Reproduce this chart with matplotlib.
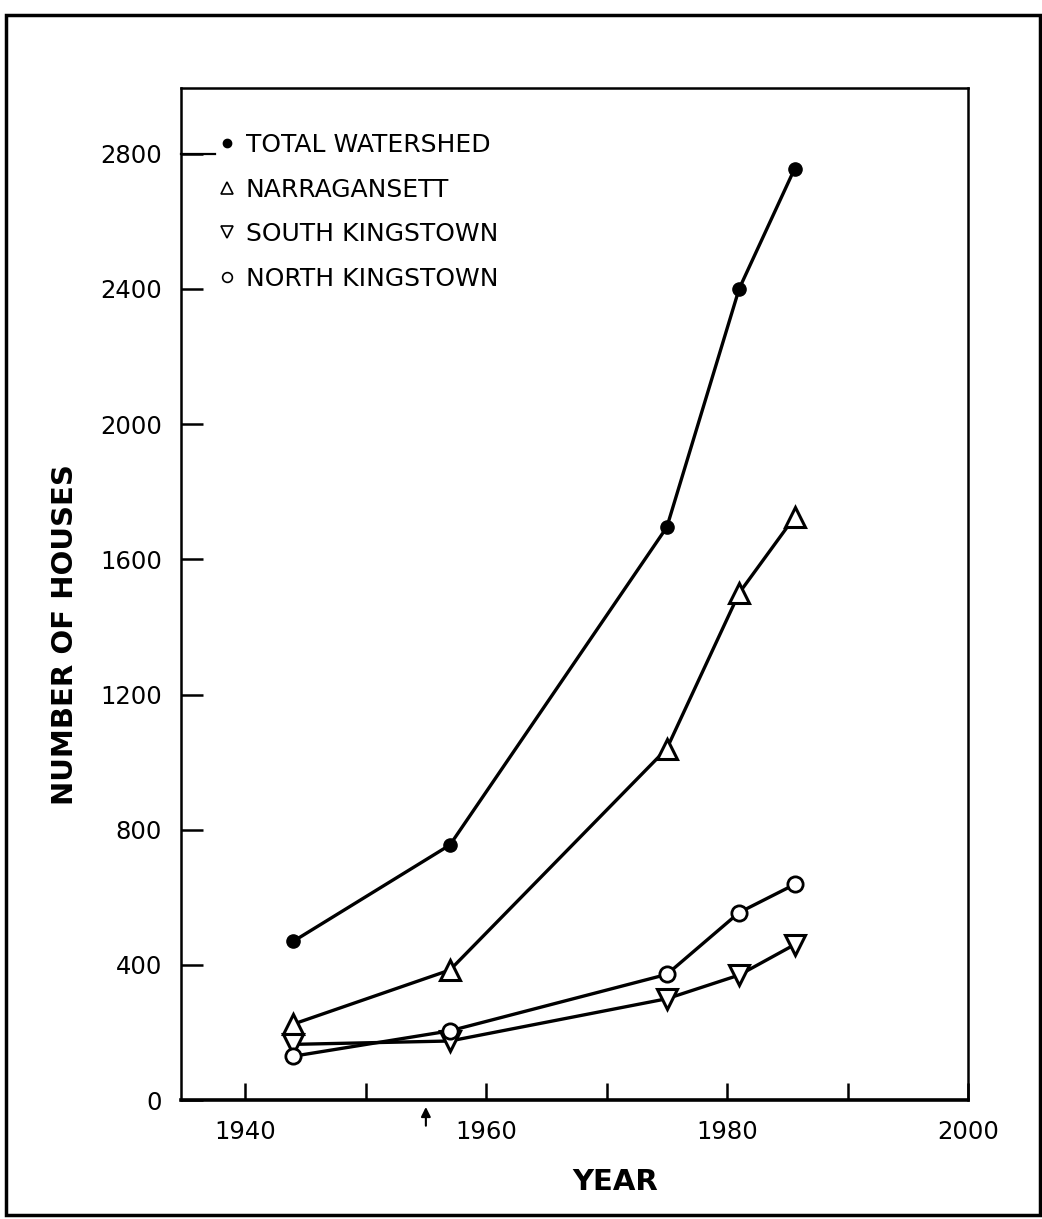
import matplotlib
matplotlib.use("Agg")
import matplotlib.pyplot as plt
from matplotlib.lines import Line2D
from matplotlib.patches import Rectangle

years = [1944, 1957, 1975, 1981, 1985.6]
total_watershed = [470, 755, 1695, 2400, 2755]
narragansett = [225, 385, 1040, 1500, 1725]
south_kingstown = [165, 175, 300, 370, 460]
north_kingstown = [130, 205, 372, 555, 638]

x_ticks = [1940, 1950, 1960, 1970, 1980, 1990, 2000]
x_tick_labels = ["1940", "", "1960", "", "1980", "", "2000"]
y_ticks = [0, 400, 800, 1200, 1600, 2000, 2400, 2800]

plt.rcParams['font.family'] = ['DejaVu Sans']

fig = plt.figure(figsize=(10.42, 12.19), dpi=100)
ax = fig.add_axes([0.174, 0.0975, 0.755, 0.8305])

lw = 2.4
ax.plot(years, total_watershed, color='black', lw=lw, marker='o', ms=9.5,
        mfc='black', mec='black', zorder=3)
ax.plot(years, narragansett, color='black', lw=lw, marker='^', ms=14,
        mfc='white', mec='black', mew=2.2, zorder=3)
ax.plot(years, south_kingstown, color='black', lw=lw, marker='v', ms=14,
        mfc='white', mec='black', mew=2.2, zorder=3)
ax.plot(years, north_kingstown, color='black', lw=lw, marker='o', ms=11,
        mfc='white', mec='black', mew=2.0, zorder=4)

ax.set_xlim(1934.7, 2000)
ax.set_ylim(0, 2995)
ax.set_xticks(x_ticks)
ax.set_xticklabels(x_tick_labels)
ax.set_yticks(y_ticks)
ax.set_yticklabels([str(v) for v in y_ticks])

ax.tick_params(axis='x', direction='in', length=12, width=1.8, pad=14,
               labelsize=17.5)
ax.tick_params(axis='y', direction='in', length=16, width=1.8, pad=14,
               labelsize=17.5)
for s in ax.spines.values():
    s.set_linewidth(1.8)
ax.spines['bottom'].set_linewidth(2.6)

ax.set_xlabel("YEAR", fontsize=21, fontweight='bold')
ax.xaxis.set_label_coords(0.552, -0.067)
ax.set_ylabel("NUMBER OF HOUSES", fontsize=21, fontweight='bold')
ax.yaxis.set_label_coords(-0.130, 0.46)

# arrow under the x axis
ax.annotate('', xy=(1955, -0.004), xycoords=('data', 'axes fraction'),
            xytext=(1955, -0.028), textcoords=('data', 'axes fraction'),
            arrowprops=dict(arrowstyle='-|>', color='black', lw=1.5,
                            mutation_scale=14), annotation_clip=False)

handles = [
    Line2D([], [], ls='none', marker='o', ms=6, mfc='black', mec='black'),
    Line2D([], [], ls='none', marker='^', ms=9, mfc='white', mec='black', mew=1.2),
    Line2D([], [], ls='none', marker='v', ms=9, mfc='white', mec='black', mew=1.2),
    Line2D([], [], ls='none', marker='o', ms=7, mfc='white', mec='black', mew=1.2),
]
labels = ["TOTAL WATERSHED", "NARRAGANSETT", "SOUTH KINGSTOWN", "NORTH KINGSTOWN"]
ax.legend(handles, labels, loc='upper left', bbox_to_anchor=(0.036, 0.965),
          frameon=False, fontsize=18, handlelength=0.6, handletextpad=0.45,
          labelspacing=0.82, borderaxespad=0)

# leader from the 2800 tick to the legend bullet
ax.plot([1934.7, 1937.5], [2800, 2800], color='black', lw=1.6,
        clip_on=False, zorder=2)

# outer frame of the figure page
fig.patches.append(Rectangle((0.006, 0.003), 0.992, 0.985, transform=fig.transFigure,
                             fill=False, ec='black', lw=2.5))

fig.savefig("out.png", dpi=100, facecolor='white')
